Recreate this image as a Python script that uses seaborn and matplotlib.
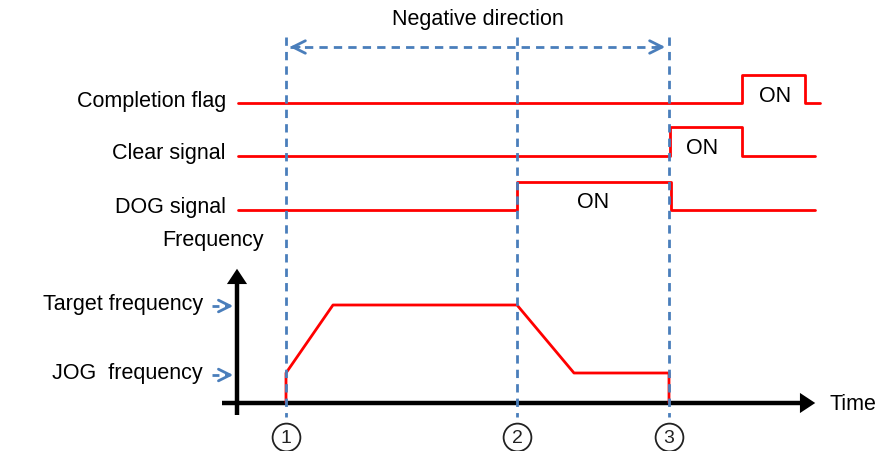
import matplotlib
matplotlib.use("Agg")
import matplotlib.pyplot as plt
import seaborn as sns
import pandas as pd

# timing points (pixel-like units, y grows downward)
event_x = [286, 517, 669]
event_labels = ["1", "2", "3"]

signal_names = ["Completion flag", "Clear signal", "DOG signal"]
signal_x = [
    [238, 742, 742, 805, 805, 820],
    [238, 670, 670, 742, 742, 815],
    [238, 517, 517, 671, 671, 815],
]
signal_y = [
    [104, 104, 76, 76, 104, 104],
    [157, 157, 128, 128, 157, 157],
    [211, 211, 183, 183, 211, 211],
]
on_pos = [(775, 96), (702, 149), (593, 203)]

freq_x = [286, 286, 333, 517, 574, 669, 669]
freq_y = [404, 374, 306, 306, 374, 374, 404]
freq_levels = ["Target frequency", "JOG  frequency"]
freq_level_y = [307, 376]

sns.set_theme(style="white")
plt.rcParams["font.family"] = ["Liberation Sans", "DejaVu Sans"]
plt.rcParams["text.color"] = "black"

RED = "#ff0000"
BLUE = "#4a7ebb"
FS = 15.5

fig = plt.figure(figsize=(8.87, 4.52), dpi=100)
ax = fig.add_axes([0, 0, 1, 1])
ax.set_xlim(0, 887)
ax.set_ylim(452, 0)
ax.axis("off")

# event markers
for x, lab in zip(event_x, event_labels):
    ax.plot([x, x], [38, 418], color=BLUE, lw=2, ls=(0, (3, 2.2)), zorder=3)
    ax.scatter([x], [438], s=400, facecolor="white", edgecolor="#222222", lw=1.3, zorder=4)
    ax.text(x, 439, lab, ha="center", va="center", fontsize=14, color="#222222", zorder=5)

# direction arrow
ax.plot([event_x[0] + 4, event_x[2] - 4], [48, 48], color=BLUE, lw=2, ls=(0, (3, 2.2)))
for x0, x1 in [(event_x[0] + 16, event_x[0] + 1), (event_x[2] - 16, event_x[2] - 1)]:
    ax.annotate("", xy=(x1, 48), xytext=(x0, 48),
                arrowprops=dict(arrowstyle="->,head_length=0.6,head_width=0.3",
                                color=BLUE, lw=2, mutation_scale=15))
ax.text(478, 20, "Negative direction", ha="center", va="center", fontsize=FS)

# digital signals
rows = []
for name, xs, ys in zip(signal_names, signal_x, signal_y):
    for i, (x, y) in enumerate(zip(xs, ys)):
        rows.append({"signal": name, "order": i, "x": x, "y": y})
sig_df = pd.DataFrame(rows)
sns.lineplot(data=sig_df, x="x", y="y", units="signal", estimator=None, sort=False,
             color=RED, lw=2, ax=ax, zorder=2)
for name, ys in zip(signal_names, signal_y):
    ax.text(226, ys[0] - 3, name, ha="right", va="center", fontsize=FS)
for (x, y) in on_pos:
    ax.text(x, y, "ON", ha="center", va="center", fontsize=FS)

# frequency axes
ax.plot([237, 237], [416, 280], color="black", lw=3.2, solid_capstyle="butt")
ax.annotate("", xy=(237, 267), xytext=(237, 285),
            arrowprops=dict(arrowstyle="-|>,head_length=0.5,head_width=0.33",
                            color="black", lw=0, mutation_scale=22))
ax.plot([222, 808], [404, 404], color="black", lw=3.2, solid_capstyle="butt")
ax.annotate("", xy=(818, 404), xytext=(800, 404),
            arrowprops=dict(arrowstyle="-|>,head_length=0.5,head_width=0.33",
                            color="black", lw=0, mutation_scale=22))
ax.text(830, 405, "Time", ha="left", va="center", fontsize=FS)
ax.text(213, 241, "Frequency", ha="center", va="center", fontsize=FS)

freq_df = pd.DataFrame({"x": freq_x, "y": freq_y})
sns.lineplot(data=freq_df, x="x", y="y", sort=False, estimator=None,
             color=RED, lw=2, ax=ax, zorder=2)

for lab, y in zip(freq_levels, freq_level_y):
    ax.text(203, y - 2, lab, ha="right", va="center", fontsize=FS)
    ax.plot([212, 226], [y, y], color=BLUE, lw=2, ls=(0, (2.5, 2)))
    ax.annotate("", xy=(236, y), xytext=(224, y),
                arrowprops=dict(arrowstyle="->,head_length=0.6,head_width=0.3",
                                color=BLUE, lw=2, mutation_scale=14))

ax.set_xlabel("")
ax.set_ylabel("")
fig.savefig("out.png", dpi=100)
